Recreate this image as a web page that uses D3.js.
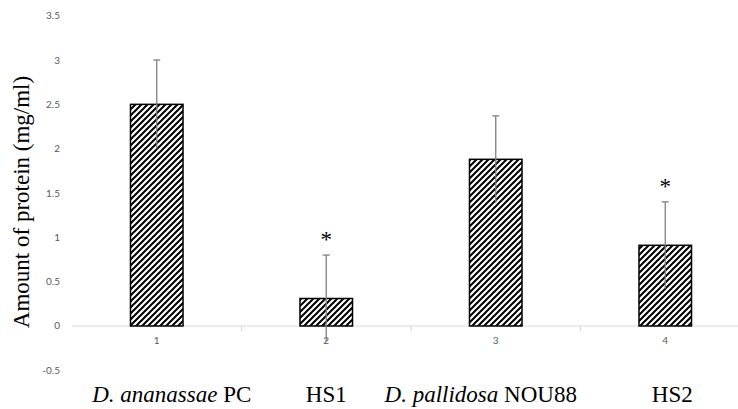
<!DOCTYPE html>
<html>
<head>
<meta charset="utf-8">
<script src="https://cdn.jsdelivr.net/npm/d3@7"></script>
<style>
  body { margin: 0; background: #fff; }
  svg { display: block; }
</style>
</head>
<body>
<div class="canvas"></div>
<script>
const groups = ["1", "2", "3", "4"];
const speciesNames = ["D. ananassae", "", "D. pallidosa", ""];
const strainNames = ["PC", "HS1", "NOU88", "HS2"];
const proteinValues = [2.5, 0.31, 1.88, 0.91];
const errorValues = [0.5, 0.49, 0.49, 0.49];
const significant = [false, true, false, true];
const yTickValues = [-0.5, 0, 0.5, 1, 1.5, 2, 2.5, 3, 3.5];

const width = 738;
const height = 409;
// category labels were placed by hand in the original, so nudge them
const labelShift = [15, 0, -15, 7];

const svg = d3
  .select(".canvas")
  .append("svg")
  .attr("width", width)
  .attr("height", height);

const defs = svg.append("defs");
const hatch = defs
  .append("pattern")
  .attr("id", "hatch")
  .attr("patternUnits", "userSpaceOnUse")
  .attr("width", 6)
  .attr("height", 6);
hatch.append("rect").attr("width", 6).attr("height", 6).attr("fill", "#fff");
hatch
  .append("path")
  .attr("d", "M-1,1 L1,-1 M0,6 L6,0 M5,7 L7,5")
  .attr("stroke", "#000")
  .attr("stroke-width", 2);

const x = d3
  .scaleBand()
  .domain(groups)
  .range([72, 750])
  .paddingInner(0.69)
  .paddingOuter(0.345);

const y = d3.scaleLinear().domain([-0.5, 3.5]).range([370.3, 15.7]);

const step = x.step();
const gap = (step - x.bandwidth()) / 2;

// y tick labels only, Excel style
svg
  .append("g")
  .selectAll("text")
  .data(yTickValues)
  .enter()
  .append("text")
  .attr("x", 60)
  .attr("y", d => y(d))
  .attr("dy", "0.35em")
  .attr("text-anchor", "end")
  .attr("font-family", "Lato, sans-serif")
  .attr("font-size", 10)
  .attr("fill", "#595959")
  .text(d => String(d));

// horizontal axis at zero
svg
  .append("line")
  .attr("x1", 72)
  .attr("x2", width)
  .attr("y1", y(0))
  .attr("y2", y(0))
  .attr("stroke", "#d9d9d9")
  .attr("stroke-width", 1.2);

svg
  .append("g")
  .selectAll("line")
  .data(groups.slice(1))
  .enter()
  .append("line")
  .attr("x1", d => x(d) - gap)
  .attr("x2", d => x(d) - gap)
  .attr("y1", y(0))
  .attr("y2", y(0) + 5)
  .attr("stroke", "#d9d9d9")
  .attr("stroke-width", 1.2);

// bars
svg
  .append("g")
  .selectAll("rect")
  .data(proteinValues)
  .enter()
  .append("rect")
  .attr("x", (d, i) => x(groups[i]))
  .attr("y", d => y(d))
  .attr("width", x.bandwidth())
  .attr("height", d => y(0) - y(d))
  .attr("fill", "url(#hatch)")
  .attr("stroke", "#000")
  .attr("stroke-width", 1.5);

// group tick labels (drawn after bars so the error line can cross them)
svg
  .append("g")
  .selectAll("text")
  .data(groups)
  .enter()
  .append("text")
  .attr("x", d => x(d) + x.bandwidth() / 2)
  .attr("y", y(0) + 15)
  .attr("dy", "0.35em")
  .attr("text-anchor", "middle")
  .attr("font-family", "Lato, sans-serif")
  .attr("font-size", 10)
  .attr("fill", "#595959")
  .text(d => d);

// error bars
const errG = svg.append("g").attr("stroke", "#808080").attr("stroke-width", 1.3);
proteinValues.forEach((v, i) => {
  const cx = x(groups[i]) + x.bandwidth() / 2;
  errG
    .append("line")
    .attr("x1", cx)
    .attr("x2", cx)
    .attr("y1", y(v - errorValues[i]))
    .attr("y2", y(v + errorValues[i]));
  errG
    .append("line")
    .attr("x1", cx - 3.5)
    .attr("x2", cx + 3.5)
    .attr("y1", y(v + errorValues[i]))
    .attr("y2", y(v + errorValues[i]));
});

// significance marks
svg
  .append("g")
  .selectAll("text")
  .data(proteinValues.filter((d, i) => significant[i]).map((d, i) => i))
  .enter()
  .append("text")
  .each(function (d, k) {
    const i = significant.map((s, j) => (s ? j : -1)).filter(j => j >= 0)[k];
    d3.select(this)
      .attr("x", x(groups[i]) + x.bandwidth() / 2)
      .attr("y", y(proteinValues[i] + errorValues[i]) - 8);
  })
  .attr("text-anchor", "middle")
  .attr("font-family", "'Liberation Serif', 'Times New Roman', serif")
  .attr("font-size", 23)
  .attr("fill", "#000")
  .text("*");

// category names under the axis
const cat = svg
  .append("g")
  .selectAll("text")
  .data(strainNames)
  .enter()
  .append("text")
  .attr("x", (d, i) => x(groups[i]) + x.bandwidth() / 2 + labelShift[i])
  .attr("y", 402)
  .attr("text-anchor", "middle")
  .attr("font-family", "'Liberation Serif', 'Times New Roman', serif")
  .attr("font-size", 23)
  .attr("fill", "#000");

cat.each(function (d, i) {
  const t = d3.select(this);
  if (speciesNames[i]) {
    t.append("tspan").attr("font-style", "italic").text(speciesNames[i] + " ");
  }
  t.append("tspan").text(d);
});

// y axis title
svg
  .append("text")
  .attr("transform", `translate(29, 202) rotate(-90)`)
  .attr("text-anchor", "middle")
  .attr("font-family", "'Liberation Serif', 'Times New Roman', serif")
  .attr("font-size", 23)
  .attr("fill", "#000")
  .text("Amount of protein (mg/ml)");
</script>
</body>
</html>
